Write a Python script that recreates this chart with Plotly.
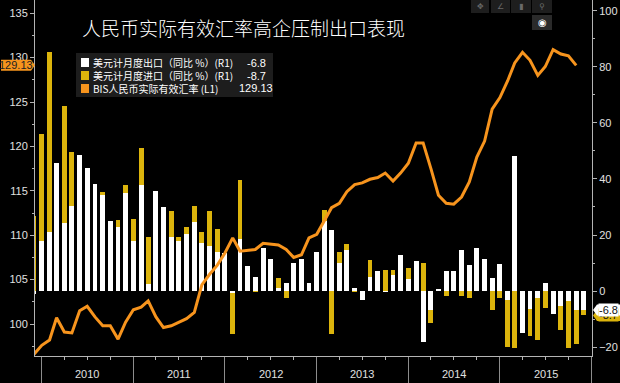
import plotly.graph_objects as go
import calendar

# ---------------- data ----------------
start_year, start_month = 2009, 11  # first bar: Nov 2009

exports_yoy = [
    -1.2, 17.7,
    21.0, 45.7, 24.3, 30.5, 48.5, 43.9, 38.1, 34.4, 25.1, 22.9, 34.9, 17.9,
    37.7, 2.4, 35.8, 29.9, 19.4, 17.9, 20.4, 24.5, 17.1, 15.9, 13.8, 13.4,
    -0.5, 18.4, 8.9, 4.9, 15.3, 11.3, 1.0, 2.7, 9.9, 11.6, 2.9, 14.1,
    25.0, 21.8, 10.0, 14.7, 1.0, -3.1, 5.1, 7.2, -0.3, 5.6, 12.7, 4.3,
    10.6, -18.1, -6.6, 0.9, 7.0, 7.2, 14.5, 9.4, 15.3, 11.6, 4.7, 9.7,
    -3.3, 48.3, -15.0, -6.4, -2.5, 2.8, -8.3, -5.5, -3.7, -6.9, -6.8,
]

imports_yoy = [
    26.7, 55.9,
    85.5, 44.7, 66.0, 49.7, 48.3, 34.1, 22.7, 35.2, 24.1, 25.3, 37.7, 25.6,
    51.0, 19.4, 27.3, 21.8, 28.4, 19.3, 22.9, 30.2, 20.9, 28.7, 22.1, 11.8,
    -15.3, 39.6, 5.3, 0.3, 12.7, 6.3, 4.7, -2.6, 2.4, 2.4, 0.0, 6.0,
    28.8, -15.2, 14.1, 16.8, -0.3, -0.7, 10.9, 7.0, 7.4, 7.6, 5.3, 8.3,
    10.0, 10.1, -11.3, 0.8, -1.6, 5.5, -1.6, -2.4, 7.0, 4.6, -6.7, -2.4,
    -19.9, -20.5, -12.7, -16.2, -17.6, -6.1, -8.1, -13.8, -20.4, -18.8, -8.7,
]

# BIS real effective exchange rate of CNY (Nov 2009 - Oct 2015)
bis_reer = [
    96.6, 97.6,
    98.2, 100.7, 99.1, 99.0, 101.5, 102.0, 100.8, 99.8, 99.8, 98.3, 100.2, 101.6,
    101.9, 102.6, 100.8, 99.6, 99.8, 100.2, 100.6, 101.3, 104.4, 105.6, 106.6, 108.0,
    109.7, 108.2, 108.3, 108.4, 109.1, 109.0, 108.9, 108.4, 107.5, 107.8, 109.7, 110.1,
    111.6, 113.1, 113.6, 114.9, 115.7, 115.9, 116.3, 116.5, 117.0, 116.1, 117.0, 118.1,
    120.4, 120.4, 117.5, 114.5, 113.6, 113.5, 114.3, 116.0, 118.8, 120.6, 124.2, 125.5,
    127.4, 129.4, 130.6, 129.7, 128.0, 129.0, 130.9, 130.4, 130.2, 129.13,
]

years = [2010, 2011, 2012, 2013, 2014, 2015]
left_ticks = [100, 105, 110, 115, 120, 125, 130, 135]
right_ticks = [-20, 0, 20, 40, 60, 80, 100]

title_text = "人民币实际有效汇率高企压制出口表现"
legend_names = ["美元计月度出口（同比 %）(R1)", "美元计月度进口（同比 %）(R1)", "BIS人民币实际有效汇率 (L1)"]
legend_values = ["-6.8", "-8.7", "129.13"]


def month_end(idx):
    m0 = start_month - 1 + idx
    y = start_year + m0 // 12
    m = m0 % 12 + 1
    return f"{y}-{m:02d}-{calendar.monthrange(y, m)[1]:02d}"


bar_dates = [month_end(i) for i in range(len(exports_yoy))]
line_dates = [month_end(i) for i in range(len(bis_reer))]

# ---------------- styling ----------------
WHITE = "#ffffff"
YELLOW = "#dcb40c"
ORANGE = "#f7941d"
AXIS = "#b4b4b4"
TXT = "#e0e0e0"
NARROW = "Liberation Sans Narrow, Liberation Sans, Arial, sans-serif"
CJK = "Liberation Sans Narrow, Noto Sans CJK SC, sans-serif"

W, H = 620, 383
ML, MR, MT, MB = 35, 28, 0, 27
PW, PH = W - ML - MR, H - MT - MB


def px(x):
    return (x - ML) / PW


def py(y):
    return (H - MB - y) / PH


fig = go.Figure()
fig.add_trace(go.Bar(x=bar_dates, y=imports_yoy, marker=dict(color=YELLOW, line=dict(width=0)),
                     width=19.5 * 86400000, name=legend_names[1], yaxis="y"))
fig.add_trace(go.Bar(x=bar_dates, y=exports_yoy, marker=dict(color=WHITE, line=dict(width=0)),
                     width=19.5 * 86400000, name=legend_names[0], yaxis="y"))
fig.add_trace(go.Scatter(x=line_dates, y=bis_reer, mode="lines", line=dict(color=ORANGE, width=3),
                         name=legend_names[2], yaxis="y2"))

year_ends = [f"{years[0] - 1}-12-31"] + [f"{y}-12-31" for y in years]
quarters = [f"{y}-{md}" for y in years for md in ("03-31", "06-30", "09-30")]

shapes = []
annotations = []

# title
annotations.append(dict(xref="paper", yref="paper", x=px(80), y=py(28), xanchor="left", yanchor="middle",
                        text=title_text, showarrow=False,
                        font=dict(family="Noto Sans CJK SC", size=19, color=WHITE, weight=300)))

# legend box
shapes.append(dict(type="rect", xref="paper", yref="paper", x0=px(76), x1=px(273), y0=py(97), y1=py(53),
                   fillcolor="#1d1d1d", line=dict(width=0), layer="above"))
leg_colors = [WHITE, YELLOW, ORANGE]
row_y = [62.5, 75.5, 88.5]
for name, val, col, ry in zip(legend_names, legend_values, leg_colors, row_y):
    shapes.append(dict(type="rect", xref="paper", yref="paper", x0=px(81), x1=px(89), y0=py(ry + 4.5),
                       y1=py(ry - 4.5), fillcolor=col, line=dict(width=0), layer="above"))
    annotations.append(dict(xref="paper", yref="paper", x=px(91), y=py(ry), xanchor="left", yanchor="middle",
                            text=name, showarrow=False, font=dict(family=CJK, size=10, color=WHITE)))
    annotations.append(dict(xref="paper", yref="paper", x=px(256), y=py(ry), xanchor="center",
                            yanchor="middle", text=val, showarrow=False,
                            font=dict(family=NARROW, size=11, color=WHITE)))

# year labels
for y in years:
    annotations.append(dict(xref="x", yref="paper", x=f"{y}-07-01", y=py(374), xanchor="center",
                            yanchor="middle", text=str(y), showarrow=False,
                            font=dict(family=NARROW, size=11, color=TXT)))

# last-value label on left axis (REER)
last_reer = bis_reer[-1]
shapes.append(dict(type="path", xref="paper", yref="y2", xsizemode="pixel", ysizemode="pixel",
                   xanchor=0, yanchor=last_reer, path="M-34,-5.5 L-4,-5.5 L0,0 L-4,5.5 L-34,5.5 Z",
                   fillcolor=ORANGE, line=dict(width=0), layer="above"))
annotations.append(dict(xref="paper", yref="y2", x=0, y=last_reer, xshift=-19, xanchor="center",
                        yanchor="middle", text=f"{last_reer:.2f}", showarrow=False,
                        font=dict(family=NARROW, size=11, color="#222222")))

# last-value labels on right axis (bars)
for val, col in ((imports_yoy[-1], YELLOW), (exports_yoy[-1], WHITE)):
    shapes.append(dict(type="path", xref="paper", yref="y", xsizemode="pixel", ysizemode="pixel",
                       xanchor=1, yanchor=val, path="M1,0 L5,5.5 L30,5.5 L30,-5.5 L5,-5.5 Z",
                       fillcolor=col, line=dict(width=0), layer="above"))
    annotations.append(dict(xref="paper", yref="y", x=1, y=val, xshift=16, xanchor="center",
                            yanchor="middle", text=f"{val:.1f}", showarrow=False, bgcolor=col,
                            borderpad=0, font=dict(family=NARROW, size=11, color="#111111")))

# toolbar boxes (top right)
icons = ["✥", "∠", "▮", "⚲"]
for (x0, x1), ic in zip([(471, 489), (491, 510), (511, 531), (532, 552)], icons):
    shapes.append(dict(type="rect", xref="paper", yref="paper", x0=px(x0), x1=px(x1), y0=py(13), y1=py(0),
                       fillcolor="#1e1e1e", line=dict(width=0), layer="above"))
    annotations.append(dict(xref="paper", yref="paper", x=px((x0 + x1) / 2), y=py(6), xanchor="center",
                            yanchor="middle", text=ic, showarrow=False,
                            font=dict(family="DejaVu Sans", size=8, color="#6a6a6a")))
shapes.append(dict(type="rect", xref="paper", yref="paper", x0=px(532), x1=px(552), y0=py(30), y1=py(15),
                   fillcolor="#2a2a2a", line=dict(width=0), layer="above"))
annotations.append(dict(xref="paper", yref="paper", x=px(542), y=py(22.5), xanchor="center", yanchor="middle",
                        text="◉", showarrow=False, font=dict(family="DejaVu Sans", size=10, color=WHITE)))

tickfont = dict(family=NARROW, size=11, color=TXT)

fig.update_layout(
    width=W, height=H,
    margin=dict(l=ML, r=MR, t=MT, b=MB, autoexpand=False),
    paper_bgcolor="#000000", plot_bgcolor="#000000",
    barmode="overlay", bargap=0,
    showlegend=False,
    hovermode=False,
    xaxis=dict(type="date", range=["2009-12-04", "2016-01-02"], showgrid=False, zeroline=False,
               showline=True, linecolor=AXIS, linewidth=1,
               tickmode="array", tickvals=year_ends, ticktext=[""] * len(year_ends),
               ticks="outside", ticklen=28, tickcolor="#8c8c8c", tickwidth=1,
               minor=dict(tickmode="array", tickvals=quarters, ticks="outside", ticklen=3,
                          tickcolor=AXIS, tickwidth=1, showgrid=False)),
    yaxis=dict(side="right", range=[-23.2, 103.9], showgrid=False, zeroline=False,
               showline=True, linecolor=AXIS, linewidth=1,
               tickmode="array", tickvals=right_ticks, ticks="outside", ticklen=4, tickcolor=AXIS,
               tickfont=tickfont,
               minor=dict(tickmode="array", tickvals=[v + 10 for v in right_ticks[:-1]], ticks="outside",
                          ticklen=2, tickcolor=AXIS)),
    yaxis2=dict(side="left", overlaying="y", range=[96.40, 136.49], showgrid=False, zeroline=False,
                showline=True, linecolor=AXIS, linewidth=1,
                tickmode="array", tickvals=left_ticks, ticks="outside", ticklen=4, tickcolor=AXIS,
                tickfont=tickfont,
                minor=dict(tickmode="array", tickvals=[v - 2.5 for v in left_ticks], ticks="outside",
                           ticklen=2, tickcolor=AXIS)),
    shapes=shapes,
    annotations=annotations,
)

fig.write_html("out.html", config={"displayModeBar": False},
               post_script="document.body.style.margin='0';document.body.style.overflow='hidden';")
